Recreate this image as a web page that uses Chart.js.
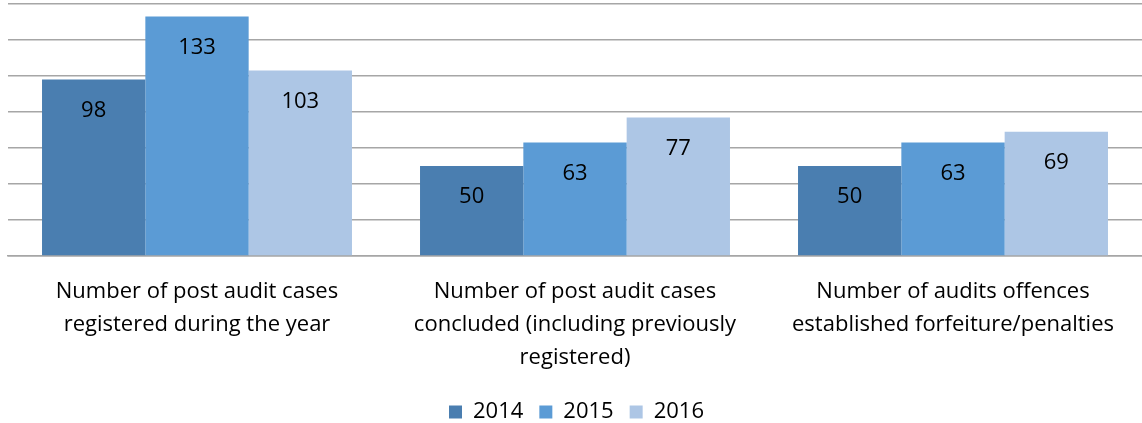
<!DOCTYPE html>
<html><head><meta charset="utf-8">
<script src="https://cdn.jsdelivr.net/npm/chart.js@4"></script>
<style>html,body{margin:0;padding:0;background:#fff}#wrap{width:1142px;height:423px}</style>
</head><body><div id="wrap"><canvas id="c" width="1142" height="423"></canvas></div>
<script>
const categories = [
  ["Number of post audit cases", "registered during the year"],
  ["Number of post audit cases", "concluded (including previously", "registered)"],
  ["Number of audits offences", "established forfeiture/penalties"]
];
const seriesNames = ["2014", "2015", "2016"];
const values2014 = [98, 50, 50];
const values2015 = [133, 63, 63];
const values2016 = [103, 77, 69];
const colors = ["#4a7eb0", "#5b9bd5", "#adc6e5"];
const FONT = "'Open Sans', Lato, sans-serif";

const labelPlugin = {
  id: 'barLabels',
  afterDatasetsDraw(chart) {
    const ctx = chart.ctx;
    ctx.save();
    ctx.font = "22px " + FONT;
    ctx.fillStyle = "#000";
    ctx.textAlign = "center";
    ctx.textBaseline = "middle";
    chart.data.datasets.forEach((ds, i) => {
      chart.getDatasetMeta(i).data.forEach((bar, j) => {
        ctx.fillText(String(ds.data[j]), bar.x, bar.y + 31);
      });
    });
    ctx.restore();
  }
};

new Chart(document.getElementById('c'), {
  type: 'bar',
  data: {
    labels: categories,
    datasets: [values2014, values2015, values2016].map((d, i) => ({
      label: seriesNames[i], data: d, backgroundColor: colors[i],
      categoryPercentage: 0.82, barPercentage: 1.0, borderWidth: 0
    }))
  },
  options: {
    responsive: false, animation: false, devicePixelRatio: 1,
    layout: { padding: { top: 4, left: 8, right: -3, bottom: -10 } },
    plugins: {
      tooltip: { enabled: false },
      legend: {
        position: 'bottom',
        labels: { font: { family: FONT, size: 22 }, color: '#000', boxWidth: 13, boxHeight: 13, padding: 16 }
      }
    },
    scales: {
      x: {
        grid: { display: false },
        border: { display: true, color: '#a6a6a6', width: 1.5 },
        ticks: { font: { family: FONT, size: 22, lineHeight: 1.5 }, color: '#000', maxRotation: 0, autoSkip: false, padding: 11 }
      },
      y: {
        min: 0, max: 140,
        ticks: { display: false, stepSize: 20 },
        border: { display: false },
        grid: { color: '#a6a6a6', lineWidth: 1.5, drawTicks: false }
      }
    }
  },
  plugins: [labelPlugin]
});
</script></body></html>
